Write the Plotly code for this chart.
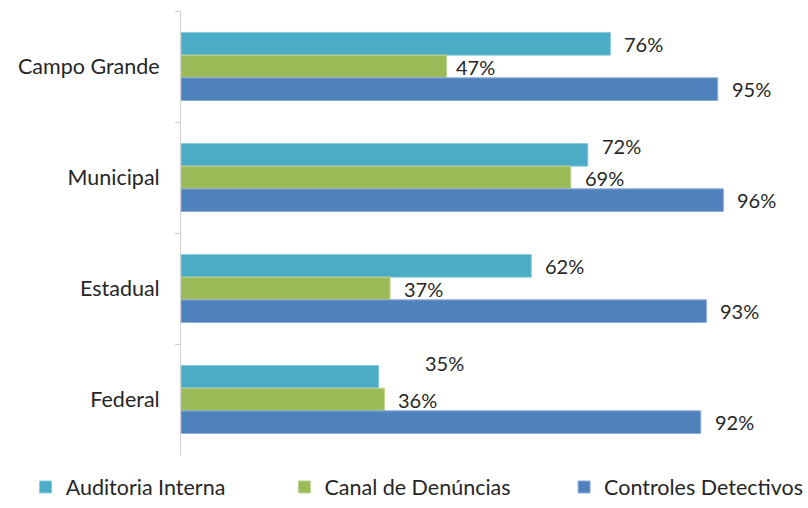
import plotly.graph_objects as go

categories = ["Campo Grande", "Municipal", "Estadual", "Federal"]
series_names = ["Auditoria Interna", "Canal de Denúncias", "Controles Detectivos"]
auditoria = [76, 72, 62, 35]
canal = [47, 69, 37, 36]
controles = [95, 96, 93, 92]
values = [auditoria, canal, controles]
colors = ["#4BACC6", "#9BBB59", "#4F81BD"]
borders = ["#8CCCDC", "#BDD48F", "#8FAFD8"]

# label nudges (xshift, yshift) in pixels per series/category
nudges = {
    (0, 1): (0, 9),
    (0, 3): (32, 14),
    (1, 0): (-5, 0),
}

FONT = "Lato"
W, H = 808, 508
M = dict(l=181, r=62, t=11, b=53, autoexpand=False)
BARGAP = 0.387
plot_h = H - M["t"] - M["b"]
band = plot_h / len(categories)
bar_w = band * (1 - BARGAP) / len(series_names)

legend_names = ["legend", "legend2", "legend3"]
legend_x = [-0.275, 0.183, 0.678]

fig = go.Figure()
for i, (name, vals) in enumerate(zip(series_names, values)):
    fig.add_trace(go.Bar(
        y=categories, x=vals, name=name, orientation="h",
        marker=dict(color=colors[i], line=dict(color=borders[i], width=1)),
        legend=legend_names[i],
    ))

for i, vals in enumerate(values):
    off = (i - 1) * bar_w
    for j, v in enumerate(vals):
        dx, dy = nudges.get((i, j), (0, 0))
        fig.add_annotation(
            x=v, y=categories[j], text=f"{v}%", showarrow=False,
            xanchor="left", yanchor="middle",
            xshift=12 + dx, yshift=-off + dy,
            font=dict(family=FONT, size=20, color="#262626"),
        )

leg_common = dict(orientation="h", xanchor="left", y=-(H - M["t"] - plot_h - 0.5) / plot_h,
                  yanchor="bottom",
                  font=dict(family=FONT, size=21.5, color="#262626"), itemwidth=30,
                  bgcolor="rgba(0,0,0,0)")
fig.update_layout(
    width=W, height=H,
    margin=M,
    paper_bgcolor="white", plot_bgcolor="white",
    barmode="group", bargap=BARGAP, bargroupgap=0,
    font=dict(family=FONT, size=21, color="#262626"),
    showlegend=True,
    legend=dict(x=legend_x[0], **leg_common),
    legend2=dict(x=legend_x[1], **leg_common),
    legend3=dict(x=legend_x[2], **leg_common),
)
fig.update_xaxes(range=[0, 100], visible=False, showgrid=False, zeroline=False)
fig.update_yaxes(autorange="reversed", showline=True, linecolor="#D0D0D0", linewidth=1,
                 ticks="outside", ticklen=5, tickcolor="#D0D0D0", tickson="boundaries",
                 showgrid=False, ticklabelstandoff=16,
                 tickfont=dict(family=FONT, size=21.5, color="#262626"))

fig.write_html("out.html")
